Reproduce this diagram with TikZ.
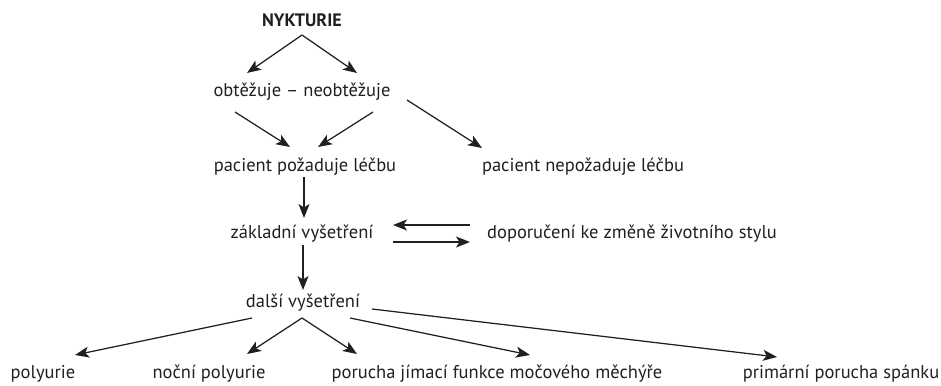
\documentclass[tikz,border=0pt]{standalone}
\usepackage{fontspec}
\setmainfont{PT Sans}
\usetikzlibrary{arrows.meta}
\definecolor{ink}{HTML}{231F20}
\tikzset{
  lbl/.style={inner sep=0pt, anchor=base, font=\fontsize{18.5}{21}\selectfont, text=ink},
  ttl/.style={lbl, font=\fontsize{18}{21}\selectfont\bfseries},
  arr/.style={line width=1.25pt, draw=ink, -{Stealth[length=14pt,width=11pt,inset=3.5pt]}}
}
\begin{document}
\begin{tikzpicture}[x=1pt,y=-1pt]
\useasboundingbox (0,0) rectangle (941,385);
\node[ttl] (nyk) at (302,27) {NYKTURIE};
\node[lbl] (obt) at (302,97) {obtěžuje – neobtěžuje};
\node[lbl] (poz) at (305,171) {pacient požaduje léčbu};
\node[lbl] (nepoz) at (583,171) {pacient nepožaduje léčbu};
\node[lbl] (zak) at (302,238) {základní vyšetření};
\node[lbl] (dop) at (632,238) {doporučení ke změně životního stylu};
\node[lbl] (dal) at (303,307) {další vyšetření};
\node[lbl] (pol) at (43,378) {polyurie};
\node[lbl] (noc) at (209,378) {noční polyurie};
\node[lbl] (mech) at (497,378) {porucha jímací funkce močového měchýře};
\node[lbl] (spa) at (841,378) {primární porucha spánku};

\draw[arr] ([shift={(0,8)}]nyk.base) -- ([shift={(-55,-24)}]obt.base);
\draw[arr] ([shift={(0,8)}]nyk.base) -- ([shift={(55,-24)}]obt.base);
\draw[arr] ([shift={(-67,15)}]obt.base) -- ([shift={(-15,-24)}]poz.base);
\draw[arr] ([shift={(71,15)}]obt.base) -- ([shift={(13,-24)}]poz.base);
\draw[arr] ([shift={(105,3)}]obt.base) -- ([shift={(-101,-23)}]nepoz.base);
\draw[arr] ([shift={(-1,6)}]poz.base) -- ([shift={(2,-20)}]zak.base);
\draw[arr] ([shift={(-162,-13)}]dop.base) -- ([shift={(91,-13)}]zak.base);
\draw[arr] ([shift={(91,4)}]zak.base) -- ([shift={(-162,4)}]dop.base);
\draw[arr] ([shift={(1,7)}]zak.base) -- ([shift={(0,-17)}]dal.base);
\draw[arr] ([shift={(-51,11)}]dal.base) -- ([shift={(32,-23)}]pol.base);
\draw[arr] ([shift={(-1,11)}]dal.base) -- ([shift={(38,-24)}]noc.base);
\draw[arr] ([shift={(-1,11)}]dal.base) -- ([shift={(-140,-24)}]mech.base);
\draw[arr] ([shift={(47,11)}]dal.base) -- ([shift={(33,-23)}]mech.base);
\draw[arr] ([shift={(69,2)}]dal.base) -- ([shift={(-64,-21)}]spa.base);
\end{tikzpicture}
\end{document}
